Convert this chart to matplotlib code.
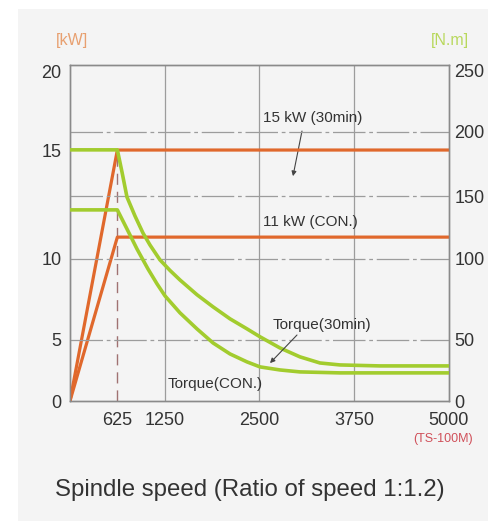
import numpy as np
import matplotlib
matplotlib.use("Agg")
import matplotlib.pyplot as plt
from matplotlib.patches import Rectangle

plt.rcParams['font.family'] = ['Liberation Sans', 'DejaVu Sans']

# spindle speed [rpm]
speed_ticks = [625, 1250, 2500, 3750, 5000]

# power curves [kW]
power_rpm = [0, 625, 5000]
power_30min = [0, 15, 15]
power_con = [0, 11, 11]

# torque curves [N.m]
torque30_rpm = [0, 625, 686, 752, 858, 963, 1055, 1187, 1319, 1451, 1675, 1887,
                2111, 2335, 2507, 2770, 3034, 3298, 3562, 4090, 5000]
torque30_nm = [186, 186, 168.8, 149.2, 134.1, 120.6, 111.1, 99.4, 92.9, 87, 77.9,
               70.4, 63, 56.8, 51.9, 43.4, 36.1, 31.1, 29.5, 28.7, 28.7]
torquecon_rpm = [0, 625, 712, 792, 884, 1029, 1148, 1253, 1451, 1675, 1887,
                 2111, 2335, 2507, 2770, 3034, 3562, 5000]
torquecon_nm = [139, 139, 128.6, 119, 107.9, 93.8, 84.6, 77.2, 66.7, 56.8, 47.5,
                38.5, 32, 27.9, 25.4, 23.8, 23, 23]

kw_ticks = [0, 5, 10, 15, 20]
nm_ticks = [0, 50, 100, 150, 200, 250]

ORANGE = '#e0682c'
GREEN = '#a2cc2e'
GRID = '#9c9c9c'
TXT = '#333333'


# the drawing's axes are not evenly spaced: piecewise linear scales
def bent_scale(vals, frac):
    vals = np.asarray(vals, float)
    frac = np.asarray(frac, float)

    def make(a, b):
        s_lo = (b[1] - b[0]) / (a[1] - a[0])
        s_hi = (b[-1] - b[-2]) / (a[-1] - a[-2])

        def f(v):
            v = np.asarray(v, float)
            out = np.interp(v, a, b)
            out = np.where(v > a[-1], b[-1] + (v - a[-1]) * s_hi, out)
            out = np.where(v < a[0], b[0] + (v - a[0]) * s_lo, out)
            return out
        return f
    return make(vals, frac), make(frac, vals)


kw_fwd, kw_inv = bent_scale(kw_ticks, [0, 0.182, 0.423, 0.747, 0.982])
nm_fwd, nm_inv = bent_scale(nm_ticks, [0, 0.182, 0.423, 0.610, 0.801, 0.985])

fig = plt.figure(figsize=(4.88, 5.21), dpi=100)
fig.patch.set_facecolor('white')
fig.patches.append(Rectangle((0.037, 0), 0.963, 0.983, transform=fig.transFigure,
                             facecolor='#f4f4f4', edgecolor='none', zorder=-10))

ax = fig.add_axes([0.1434, 0.2303, 0.7766, 0.6449])
ax.set_facecolor('none')
ax.set_yscale('function', functions=(kw_fwd, kw_inv))
ax.set_xlim(0, 5000)
ax.set_ylim(0, float(kw_inv(1.0)))

ax2 = ax.twinx()
ax2.set_yscale('function', functions=(nm_fwd, nm_inv))
ax2.set_ylim(0, float(nm_inv(1.0)))

# grid
for s in [1250, 2500, 3750]:
    ax.axvline(s, color=GRID, lw=0.9, zorder=1)
for t in nm_ticks[1:-1]:
    ax2.axhline(t, color=GRID, lw=0.9, dashes=(26, 3, 3, 3), zorder=1)
ax.vlines(625, 0, 15, color='#a07272', lw=1.0, linestyles=(0, (8, 5)), zorder=1)

# curves
ax.plot(power_rpm, power_30min, color=ORANGE, lw=2.3, zorder=4)
ax.plot(power_rpm, power_con, color=ORANGE, lw=2.3, zorder=4)
ax2.plot(torque30_rpm, torque30_nm, color=GREEN, lw=2.6, zorder=3,
         solid_joinstyle='round')
ax2.plot(torquecon_rpm, torquecon_nm, color=GREEN, lw=2.6, zorder=3,
         solid_joinstyle='round')

# labels and arrows
ax.text(2546, 17.0, '15 kW (30min)', fontsize=11, color=TXT, va='center', ha='left')
ax.text(2546, 11.7, '11 kW (CON.)', fontsize=11, color=TXT, va='center', ha='left')
ax2.text(2678, 59, 'Torque(30min)', fontsize=11, color=TXT, va='center', ha='left')
ax2.text(1293, 14, 'Torque(CON.)', fontsize=11, color=TXT, va='center', ha='left')
ax.annotate('', xy=(2942, 13.8), xytext=(3061, 16.2),
            arrowprops=dict(arrowstyle='-|>', color='#444444', lw=0.8,
                            mutation_scale=7, shrinkA=0, shrinkB=0))
ax2.annotate('', xy=(2639, 31), xytext=(2995, 53),
             arrowprops=dict(arrowstyle='-|>', color='#444444', lw=0.8,
                             mutation_scale=7, shrinkA=0, shrinkB=0))

# ticks
ax.set_xticks(speed_ticks)
ax.set_xticklabels([str(s) for s in speed_ticks])
ax.set_yticks(kw_ticks)
ax.set_yticklabels([str(k) for k in kw_ticks])
ax2.set_yticks(nm_ticks)
ax2.set_yticklabels([str(n) for n in nm_ticks])
ax.minorticks_off()
ax2.minorticks_off()
ax.tick_params(axis='x', length=0, pad=8, labelsize=13, labelcolor=TXT)
ax.tick_params(axis='y', length=0, pad=6, labelsize=13, labelcolor=TXT)
ax2.tick_params(axis='y', length=0, pad=4, labelsize=13, labelcolor=TXT)

for a in (ax, ax2):
    for sp in a.spines.values():
        sp.set_color('#8a8a8a')
        sp.set_linewidth(1.0)

fig.text(0.1475, 0.923, '[kW]', fontsize=11.5, color='#e8a070', ha='center', va='center')
fig.text(0.922, 0.923, '[N.m]', fontsize=11.5, color='#b8d85c', ha='center', va='center')
fig.text(0.908, 0.157, '(TS-100M)', fontsize=9, color='#d0505a', ha='center', va='center')
fig.text(0.512, 0.0595, 'Spindle speed (Ratio of speed 1:1.2)', fontsize=17.3,
         color=TXT, ha='center', va='center')

fig.savefig('out.png', dpi=100)
